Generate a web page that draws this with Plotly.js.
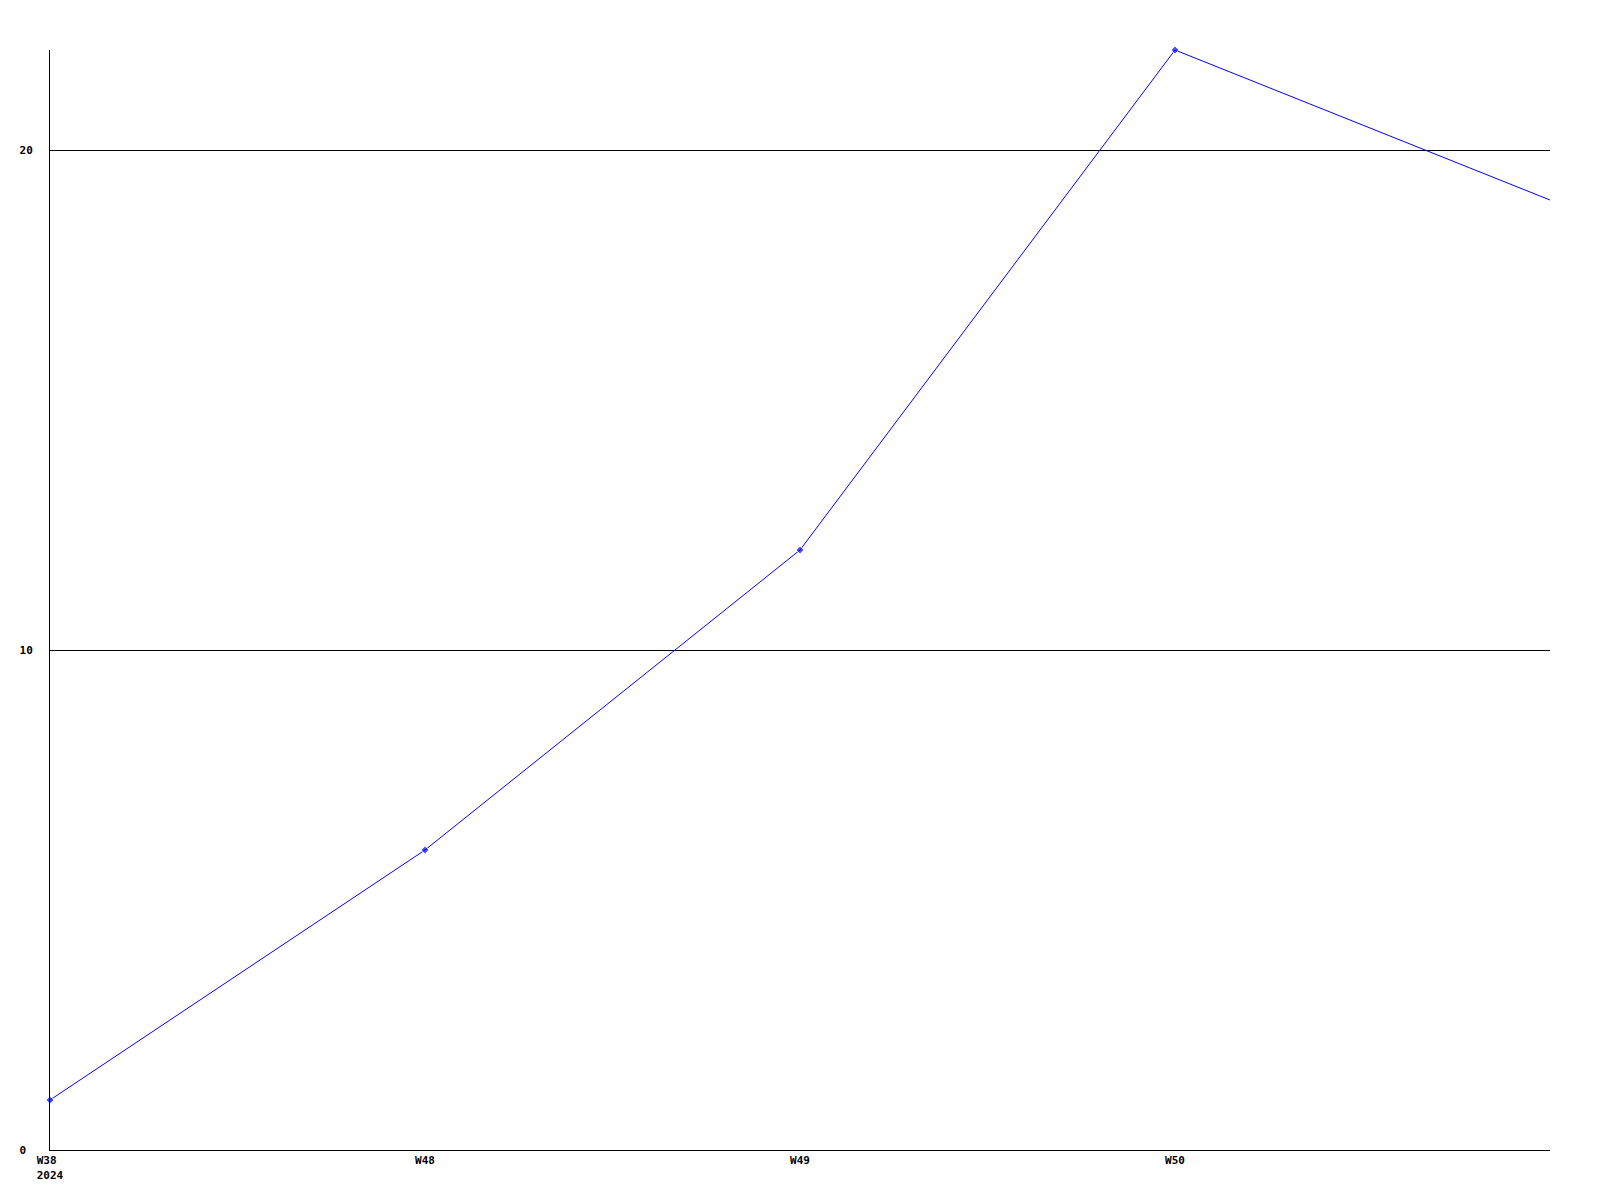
<!DOCTYPE html>
<html>
<head>
<meta charset="utf-8">
<script src="https://cdn.plot.ly/plotly-3.0.1.min.js"></script>
<style>html,body{margin:0;padding:0;background:#fff;}</style>
</head>
<body>
<div id="chart" style="width:1600px;height:1200px;"></div>
<script>
const weeks = ["W38", "W48", "W49", "W50", "W51"];
const weekLabels = ["W38&nbsp;<br>2024", "W48", "W49", "W50", ""];
const values = [1, 6, 12, 22, 19];
const yTicks = [0, 10, 20];

const trace = {
  x: weeks,
  y: values,
  type: "scatter",
  mode: "lines+markers",
  cliponaxis: false,
  line: {color: "#0000ff", width: 1},
  marker: {color: "#0000ff", size: [6, 6, 6, 6, 0], symbol: "diamond"},
  hoverinfo: "x+y"
};

const tf = {family: "DejaVu Sans Mono, monospace", size: 11, color: "#000", weight: "bold"};

const layout = {
  width: 1600,
  height: 1200,
  margin: {l: 50, r: 50, t: 50, b: 50},
  paper_bgcolor: "#fff",
  plot_bgcolor: "#fff",
  showlegend: false,
  font: {family: "DejaVu Sans Mono, monospace", size: 11, color: "#000"},
  xaxis: {
    type: "category",
    range: [0, 4],
    tickvals: weeks,
    ticktext: weekLabels,
    showgrid: false,
    showline: true,
    linecolor: "#000",
    linewidth: 1,
    ticks: "",
    zeroline: false,
    tickfont: tf
  },
  yaxis: {
    range: [0, 22],
    tickvals: yTicks,
    ticktext: yTicks.map(v => String(v).padEnd(2, "\u00a0")),
    showgrid: true,
    gridcolor: "#000",
    gridwidth: 1,
    showline: true,
    linecolor: "#000",
    linewidth: 1,
    zeroline: false,
    ticks: "",
    ticklabelstandoff: 14,
    tickfont: tf
  }
};

Plotly.newPlot("chart", [trace], layout, {displayModeBar: false, staticPlot: true});
</script>
</body>
</html>
